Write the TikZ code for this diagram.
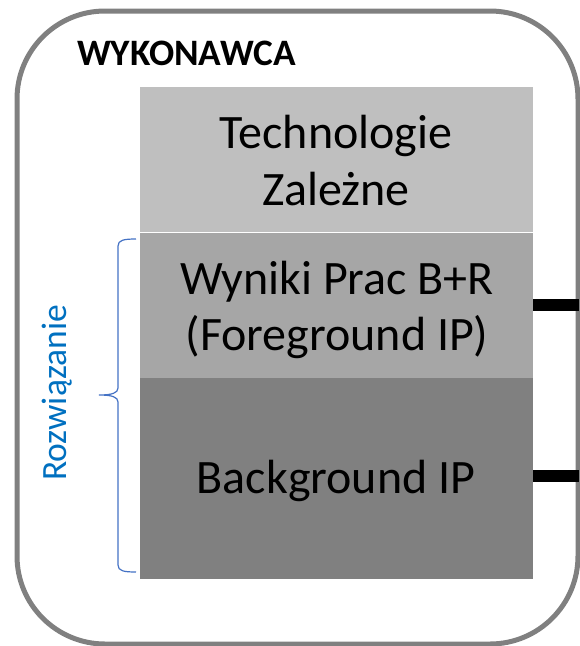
\documentclass[tikz,border=0pt]{standalone}
\usepackage{fontspec}
\setmainfont{Carlito}
\definecolor{frame}{RGB}{128,128,128}
\definecolor{boxa}{RGB}{191,191,191}
\definecolor{boxb}{RGB}{166,166,166}
\definecolor{boxc}{RGB}{128,128,128}
\definecolor{bracec}{RGB}{68,114,196}
\definecolor{soltext}{RGB}{0,112,192}
\begin{document}
\begin{tikzpicture}[x=1pt,y=-1pt,
  layer/.style={draw=none,inner sep=0pt,anchor=north west},
  txt/.style={inner sep=0pt,anchor=base,font=\fontsize{48}{56}\selectfont,text=black}]
\useasboundingbox (0,0) rectangle (580,646);
\draw[frame,line width=5pt,rounded corners=88pt] (17,11) rectangle (578,644);
\node[font=\bfseries\fontsize{37.3}{38}\selectfont,anchor=base west,inner sep=0pt] (title) at (77,65) {WYKONAWCA};
\node[layer,fill=boxa,minimum width=393pt,minimum height=145pt] (tech) at (140,87) {};
\node[layer,fill=boxb,minimum width=393pt,minimum height=146pt] (fore) at (140,232) {};
\node[layer,fill=boxc,minimum width=393pt,minimum height=201pt] (back) at (140,378) {};
\draw[white,line width=1pt] (tech.south west) -- (tech.south east);
\node[txt] (t1a) at (336,148) {Technologie};
\node[txt] (t1b) at (336,205) {Zależne};
\node[txt] (t2a) at (337,294) {Wyniki Prac B+R};
\node[txt] (t2b) at (337,350) {(Foreground IP)};
\node[txt] (t3) at (336,493) {Background IP};
\coordinate (b1a) at (533,305); \coordinate (b1b) at (579,305);
\coordinate (b2a) at (533,476); \coordinate (b2b) at (579,476);
\draw[black,line width=12pt] (b1a) -- (b1b);
\draw[black,line width=12pt] (b2a) -- (b2b);
\draw[bracec,line width=1.2pt] (136,239) .. controls (124,239) and (118,240) .. (118,246)
  -- (118,388) .. controls (118,393) and (112,395) .. (99,395)
  .. controls (112,395) and (118,397) .. (118,402)
  -- (118,565) .. controls (118,571) and (124,572) .. (136,572);
\node[rotate=90,text=soltext,font=\fontsize{35.5}{36}\selectfont,inner sep=0pt,anchor=base] (sol) at (66.5,393) {Rozwiązanie};
\end{tikzpicture}
\end{document}
